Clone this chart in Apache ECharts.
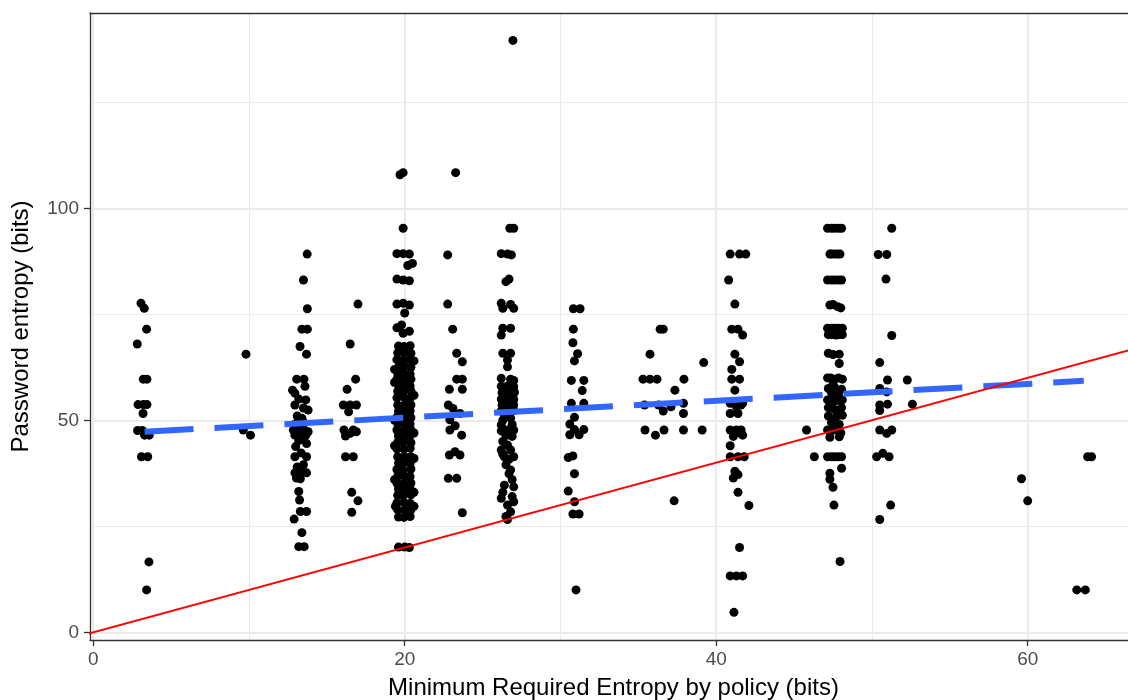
<!DOCTYPE html>
<html>
<head>
<meta charset="utf-8">
<script src="https://cdn.jsdelivr.net/npm/echarts@6/dist/echarts.min.js"></script>
<style>
html,body{margin:0;padding:0;background:#fff;}
#chart{width:1128px;height:700px;}
</style>
</head>
<body>
<div id="chart"></div>
<script>
// ---- data ----
const xTicks = [0, 20, 40, 60];
const xMinorTicks = [10, 30, 50];
const yTicks = [0, 50, 100];
const yMinorTicks = [25, 75, 125];

const p3 = [[3.07,77.6],[3.28,76.4],[3.43,71.5],[2.83,68.0],[3.22,59.7],[3.45,59.7],[2.88,53.7],[3.22,53.7],[3.45,53.7],[3.2,51.6],[2.85,47.6],[3.15,47.6],[3.3,46.5],[3.6,46.5],[3.1,41.4],[3.5,41.4],[3.58,16.6],[3.43,10.0]];
const p10 = [[9.81,65.6],[9.64,47.7],[10.1,46.5]];
const p13 = [[13.5,83.1],[13.74,89.2],[13.75,76.3],[13.4,71.5],[13.75,71.5],[13.28,67.4],[13.7,65.6],[13.07,59.7],[13.53,59.7],[12.8,57.1],[12.95,56.4],[12.95,53.6],[13.5,52.9],[13.8,52.4],[13.1,51.0],[13.4,50.5],[12.85,47.7],[13.2,47.7],[13.55,47.7],[13.8,47.3],[12.95,46.5],[13.35,46.0],[13.65,46.5],[13.2,45.2],[12.95,41.4],[13.35,42.3],[13.7,41.4],[12.95,37.6],[13.35,37.6],[13.7,37.6],[13.05,36.4],[13.3,36.2],[13.2,33.2],[13.25,31.2],[13.3,28.5],[13.7,28.5],[12.9,26.7],[13.4,23.5],[13.2,20.2],[13.55,20.2],
  [13.6,58.0],[13.2,55.0],[13.65,54.8],[13.0,49.2],[13.5,49.5],[13.7,44.5],[13.0,43.8],[13.5,39.5],[13.1,39.0]];
const p17 = [[17.0,77.4],[16.5,68.0],[16.85,59.7],[16.3,57.3],[16.06,53.6],[16.5,53.6],[16.9,53.6],[16.4,52.0],[16.1,47.7],[16.5,46.9],[16.9,47.3],[16.2,46.3],[16.7,47.7],[16.2,41.4],[16.7,41.4],[16.6,33.0],[17.0,31.0],[16.6,28.3]];
const p20 = [[19.7,107.9],[19.9,108.4],[19.9,95.3],
  [19.5,89.3],[19.9,89.3],[20.3,89.2],[20.5,87.0],[20.2,86.5],
  [19.5,83.3],[19.9,83.1],[20.3,82.9],
  [19.5,77.4],[19.9,77.6],[20.3,77.2],[20.0,75.3],
  [19.5,71.8],[19.8,72.5],[20.3,71.0],[19.9,70.5],
  [19.6,67.5],[19.95,67.4],[20.35,67.6],
  [19.55,65.9],[20.0,66.0],[20.4,65.8],
  [19.5,64.3],[19.9,64.2],[20.35,64.4],
  [19.6,62.6],[20.0,62.7],[20.4,62.5],
  [19.55,61.0],[19.95,61.1],[20.35,60.9],
  [19.5,59.7],[19.95,59.7],[20.4,59.7],
  [19.6,58.2],[20.0,58.3],[20.35,58.1],
  [19.55,56.8],[19.9,56.7],[20.4,56.9],
  [19.5,55.3],[19.95,55.4],[20.35,55.2],
  [19.55,53.6],[20.0,53.6],[20.4,53.6],
  [19.6,52.1],[19.95,52.0],[20.35,52.2],
  [19.5,50.7],[19.9,50.8],[20.4,50.6],
  [19.55,49.2],[20.0,49.3],[20.35,49.1],
  [19.5,47.7],[19.95,47.7],[20.4,47.7],
  [19.6,46.3],[20.0,46.2],[20.35,46.4],
  [19.55,44.8],[19.9,44.9],[20.4,44.7],
  [19.5,43.3],[19.95,43.2],[20.35,43.4],
  [19.55,41.4],[20.0,41.4],[20.4,41.4],
  [19.6,39.9],[19.95,40.0],[20.35,39.8],
  [19.5,38.4],[19.9,38.3],[20.4,38.5],
  [19.55,36.8],[20.0,36.9],[20.35,36.7],
  [19.5,35.2],[19.95,35.2],[20.4,35.2],
  [19.6,33.8],[20.0,33.7],[20.35,33.9],
  [19.55,32.3],[19.9,32.2],[20.4,32.4],
  [19.5,30.5],[19.95,30.6],[20.35,30.4],
  [19.55,28.9],[20.0,28.8],[20.4,28.9],
  [19.6,27.2],[19.95,27.1],[20.35,27.3],
  [19.35,62.0],[20.6,64.0],[19.35,58.9],[20.6,55.9],[19.35,50.0],[20.6,47.0],[19.35,44.0],[20.6,41.0],[19.35,36.0],[20.6,33.0],[19.4,29.7],[20.6,29.7],
  [19.6,20.1],[20.0,20.1],[20.3,20.0]];
const p23 = [[23.27,108.4],[22.76,89.0],[22.76,77.4],[23.08,71.5],[23.34,65.8],[23.7,63.8],[23.34,59.7],[23.7,59.7],[22.87,57.3],[23.7,57.3],[22.8,53.6],[23.1,52.8],[23.55,51.6],[22.9,50.1],[23.24,48.7],[22.9,47.7],[23.66,46.5],[22.87,41.8],[23.55,41.8],[23.23,42.6],[22.8,36.3],[23.34,36.3],[23.7,28.2]];
const p27 = [[26.95,139.6],[26.75,95.3],[27.0,95.3],
  [26.2,89.3],[26.6,89.2],[26.85,89.0],[26.7,83.3],[26.5,82.7],
  [26.2,77.6],[26.8,77.3],[27.0,76.4],[26.3,76.4],
  [26.3,71.7],[26.8,71.7],[26.2,70.1],
  [26.3,65.8],[26.8,65.8],[26.6,64.2],[26.6,62.6],
  [26.2,59.9],[26.8,59.7],[27.0,59.4],
  [26.2,58.0],[26.6,58.1],[27.0,57.9],
  [26.25,56.5],[26.65,56.4],[27.05,56.6],
  [26.2,55.0],[26.6,55.1],[27.0,54.9],
  [26.25,53.6],[26.65,53.6],[27.0,53.6],
  [26.2,52.2],[26.6,52.1],[27.0,52.3],
  [26.3,50.0],[26.8,50.5],[26.2,48.9],[26.6,47.7],[27.0,47.7],[26.2,47.5],[26.5,46.4],[26.9,46.2],[26.3,45.0],
  [26.4,51.0],[26.9,49.0],[26.6,44.2],[26.3,42.0],[26.5,39.5],[26.9,36.0],[26.3,33.0],[26.6,30.0],
  [26.2,43.0],[26.8,43.0],[27.0,41.4],[26.4,41.4],[26.7,40.8],
  [26.8,38.3],[26.7,37.4],[26.4,34.7],[27.0,34.3],
  [26.2,31.6],[26.9,32.0],[27.0,30.8],[26.8,28.4],[26.5,27.3],[26.6,26.6]];
const p31 = [[30.83,76.3],[31.26,76.3],[30.83,71.5],[30.8,68.3],[31.1,65.7],[30.9,64.0],[30.7,59.4],[31.5,59.4],[31.4,57.0],[30.7,54.0],[31.5,54.0],[30.9,50.7],[30.6,49.1],[30.9,47.8],[31.5,47.8],[30.6,46.6],[31.2,46.6],[30.5,41.2],[30.8,41.6],[30.9,37.4],[30.5,33.3],[30.9,30.8],[30.8,27.9],[31.2,27.9],[31.0,10.0]];
const p36 = [[36.4,71.5],[36.6,71.5],[35.75,65.6],[35.3,59.7],[35.75,59.7],[36.2,59.7],[37.93,59.7],[37.35,57.1],[39.2,63.6],[35.4,53.6],[36.3,53.6],[37.1,53.2],[37.9,54.0],[36.6,52.2],[37.9,51.6],[35.43,47.7],[36.1,46.5],[36.65,47.7],[37.9,47.7],[39.1,47.7],[37.3,31.0]];
const p41 = [[40.9,89.2],[41.5,89.2],[41.9,89.2],[40.8,83.1],[41.2,77.4],[41.0,71.5],[41.4,71.5],[41.7,70.1],[41.2,65.6],[41.5,63.8],[41.0,62.0],[41.0,59.7],[41.5,59.7],[41.2,57.1],[40.9,54.0],[41.3,53.2],[41.7,54.0],[41.6,53.6],[40.9,51.6],[41.4,51.6],[40.9,47.7],[41.3,47.7],[41.6,47.7],[41.7,46.5],[41.1,46.2],[41.5,47.0],[40.9,44.0],[40.9,41.4],[41.4,41.4],[41.8,41.4],[41.2,38.0],[41.1,36.4],[41.4,37.2],[41.4,33.0],[42.1,29.9],[41.5,20.0],[40.9,13.3],[41.3,13.3],[41.7,13.3],[41.14,4.7]];
const p47 = [[47.15,95.3],[47.4,95.3],[47.6,95.3],[47.85,95.3],[48.05,95.3],
  [47.3,89.2],[47.4,89.2],[47.6,89.2],[47.8,89.2],[47.95,89.2],
  [47.15,83.1],[47.4,83.1],[47.6,83.1],[47.85,83.1],[48.05,83.1],
  [47.3,77.2],[47.8,76.8],[47.5,77.3],[48.0,76.5],
  [47.15,71.7],[47.4,71.7],[47.6,71.7],[47.85,71.7],[48.1,71.7],[47.2,70.2],[47.4,70.2],[47.7,70.1],[47.85,70.2],[48.1,70.2],
  [47.2,65.8],[47.9,65.6],[47.9,63.4],[47.5,65.5],
  [47.15,60.0],[47.35,60.0],[47.6,59.7],[47.85,60.0],[48.1,59.7],[47.2,57.5],[47.6,57.8],[48.05,57.3],[47.5,58.5],[47.4,56.5],[47.85,56.0],
  [47.15,54.8],[47.4,54.8],[47.6,54.5],[47.85,54.8],[48.1,54.8],[47.2,53.0],[47.4,53.0],[47.6,52.5],[47.85,52.3],[48.05,53.0],[47.2,51.0],[47.7,50.8],[48.1,51.2],[47.4,49.5],[47.9,49.0],
  [47.15,47.7],[47.4,47.7],[47.55,47.7],[47.8,47.7],[48.0,47.0],[47.3,46.0],[47.9,46.1],
  [45.8,47.7],[46.3,41.4],
  [47.15,41.4],[47.4,41.4],[47.6,41.4],[47.85,41.4],[48.05,41.4],
  [48.05,38.7],[47.3,37.5],[47.3,36.1],[47.5,34.2],[47.56,30.0],[47.95,16.7]];
const p51 = [[51.27,95.3],[50.4,89.1],[50.95,89.1],[50.9,83.3],[51.27,70.0],[50.5,63.6],[51.0,59.5],[52.27,59.5],[50.5,57.5],[50.95,56.7],[52.6,53.8],[50.5,53.6],[51.0,53.8],[50.5,52.3],[50.5,47.7],[50.95,46.9],[51.27,47.7],[50.3,41.4],[50.7,42.2],[51.1,41.4],[51.2,30.0],[50.5,26.6]];
const pFar = [[59.6,36.2],[60.0,31.0],[63.85,41.4],[64.1,41.4],[63.15,10.0],[63.7,10.0]];

// linear fit (dashed blue) endpoints
const trendX = [3.3, 63.6];
const trendY = [47.3, 59.3];
// reference line y = x
const refX = [-1, 70];

const xName = 'Minimum Required Entropy by policy (bits)';
const yName = 'Password entropy (bits)';

// ---- chart ----
const points = [].concat(p3, p10, p13, p17, p20, p23, p27, p31, p36, p41, p47, p51, pFar);
const trend = trendX.map((x, i) => [x, trendY[i]]);
const ref = refX.map(x => [x, x]);

const FONT = '"Liberation Sans", Arial, Helvetica, sans-serif';
const X_MIN = -0.205, X_MAX = 66.44;
const Y_MIN = -1.82, Y_MAX = 146.06;
const gridCol = '#EBEBEB';
const axisCol = '#333333';

const chart = echarts.init(document.getElementById('chart'), null, {renderer: 'canvas'});
chart.setOption({
  animation: false,
  backgroundColor: '#ffffff',
  textStyle: {fontFamily: FONT},
  grid: {left: 90, right: 0, top: 13, bottom: 60, show: false, outerBoundsMode: 'none', containLabel: false},
  xAxis: [{
    type: 'value', min: X_MIN, max: X_MAX, position: 'bottom',
    name: xName, nameLocation: 'middle', nameGap: 36,
    nameTextStyle: {fontSize: 24, color: '#000', fontFamily: FONT, padding: [0, 0, 0, 9]},
    axisLine: {show: true, onZero: false, lineStyle: {color: axisCol, width: 1.3}},
    axisTick: {show: true, length: 6, customValues: xTicks, lineStyle: {color: axisCol, width: 1.3}},
    axisLabel: {customValues: xTicks, fontSize: 19, color: '#4D4D4D', margin: 10, fontFamily: FONT},
    splitLine: {show: true, lineStyle: {color: gridCol, width: 2}}
  }, {
    type: 'value', min: X_MIN, max: X_MAX, position: 'top',
    axisLine: {show: true, onZero: false, lineStyle: {color: axisCol, width: 1.3}},
    axisTick: {show: false, customValues: xMinorTicks},
    axisLabel: {show: false, customValues: xMinorTicks},
    splitLine: {show: true, lineStyle: {color: gridCol, width: 1}}
  }],
  yAxis: [{
    type: 'value', min: Y_MIN, max: Y_MAX, position: 'left',
    name: yName, nameLocation: 'middle', nameGap: 57, nameRotate: 90,
    nameTextStyle: {fontSize: 24, color: '#000', fontFamily: FONT},
    axisLine: {show: true, onZero: false, lineStyle: {color: axisCol, width: 1.3}},
    axisTick: {show: true, length: 6, customValues: yTicks, lineStyle: {color: axisCol, width: 1.3}},
    axisLabel: {customValues: yTicks, fontSize: 19, color: '#4D4D4D', margin: 11, fontFamily: FONT},
    splitLine: {show: true, lineStyle: {color: gridCol, width: 2}}
  }, {
    type: 'value', min: Y_MIN, max: Y_MAX, position: 'left',
    axisLine: {show: false}, axisTick: {show: false, customValues: yMinorTicks},
    axisLabel: {show: false, customValues: yMinorTicks},
    splitLine: {show: true, lineStyle: {color: gridCol, width: 1}}
  }],
  series: [{
    type: 'scatter', data: points, symbol: 'circle', symbolSize: 9,
    itemStyle: {color: '#000000', opacity: 1}, z: 3, silent: true
  }, {
    type: 'line', data: trend, showSymbol: false, symbol: 'none', clip: true,
    lineStyle: {color: '#3366FF', width: 6, type: [49, 21], cap: 'butt'}, z: 4, silent: true
  }, {
    type: 'line', data: ref, showSymbol: false, symbol: 'none', clip: true,
    lineStyle: {color: '#FF0000', width: 2}, z: 5, silent: true
  }]
});
</script>
</body>
</html>
